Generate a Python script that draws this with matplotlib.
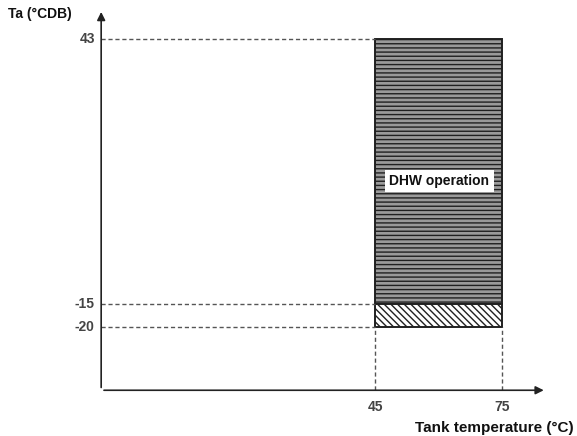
import matplotlib.pyplot as plt
from matplotlib.patches import Rectangle

# operating range (schematic)
tank_range = [45, 75]          # tank temperature, °C
dhw_range = [-15, 43]          # Ta, °CDB, DHW operation
backup_range = [-20, -15]      # Ta, °CDB, hatched zone
y_ticks = [43, -15, -20]
x_ticks = [45, 75]

plt.rcParams['font.family'] = ['Liberation Sans', 'DejaVu Sans']
plt.rcParams['hatch.color'] = '#3a3a3a'

fig = plt.figure(figsize=(5.77, 4.36), dpi=100)
ax = fig.add_axes([0, 0, 1, 1])
ax.set_xlim(-43.6, 92.7)
ax.set_ylim(-43.8, 51.5)
ax.axis('off')

x0, y0 = -19.7, -33.8  # axis origin
x_end, y_end = 85.5, 49.5

# axes with arrow heads
ax.annotate('', xy=(x_end, y0), xytext=(x0, y0),
            arrowprops=dict(arrowstyle='-|>', color='#222222', lw=1.2, mutation_scale=12))
ax.annotate('', xy=(x0, y_end), xytext=(x0, y0),
            arrowprops=dict(arrowstyle='-|>', color='#222222', lw=1.2, mutation_scale=12))

# DHW operation block
ax.add_patch(Rectangle((tank_range[0], dhw_range[0]), tank_range[1] - tank_range[0],
                       dhw_range[1] - dhw_range[0], facecolor='#9a9a9a', edgecolor='#202020',
                       hatch='----', lw=1.4))
ax.add_patch(Rectangle((tank_range[0], backup_range[0]), tank_range[1] - tank_range[0],
                       backup_range[1] - backup_range[0], facecolor='white', edgecolor='#202020',
                       hatch='\\\\\\\\\\', lw=1.4))

# dashed guides
for v in y_ticks:
    ax.plot([x0, tank_range[0]], [v, v], ls=(0, (3, 2)), color='#555555', lw=1)
    ax.text(x0 - 1.5, v, str(v), ha='right', va='center', fontsize=10,
            fontweight='bold', color='#444444')
for v in x_ticks:
    ax.plot([v, v], [y0, backup_range[0]], ls=(0, (3, 2)), color='#555555', lw=1)
    ax.text(v, y0 - 2.2, str(v), ha='center', va='top', fontsize=10,
            fontweight='bold', color='#444444')

ax.text(60.2, 11.9, 'DHW operation', ha='center', va='center', fontsize=10,
        fontweight='bold', color='#111111',
        bbox=dict(facecolor='white', edgecolor='none', pad=3))

ax.text(-41.8, 48.4, 'Ta (°CDB)', ha='left', va='center', fontsize=10,
        fontweight='bold', color='#111111')
ax.text(92.0, -42.0, 'Tank temperature (°C)', ha='right', va='center', fontsize=11,
        fontweight='bold', color='#111111')

fig.savefig('out.png', dpi=100)
